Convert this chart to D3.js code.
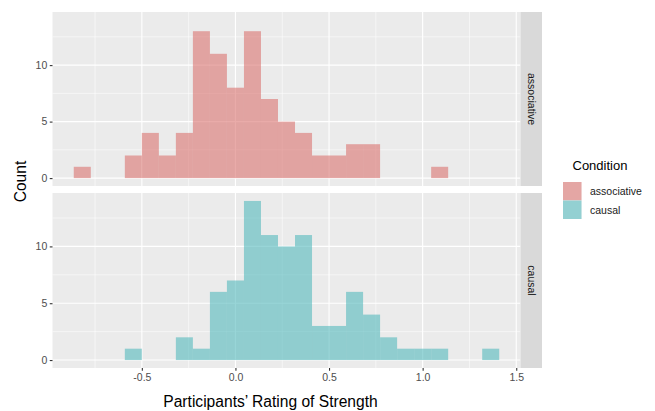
<!DOCTYPE html>
<html>
<head>
<meta charset="utf-8">
<script src="https://cdn.jsdelivr.net/npm/d3@7"></script>
<style>
  body { margin: 0; background: #fff; }
  svg { display: block; font-family: "Liberation Sans", Arial, Helvetica, sans-serif; }
</style>
</head>
<body>
<script>
// histogram bins: edges are shared by both facets (binwidth 1/11)
var binEdges = [-0.8636, -0.7727, -0.6818, -0.5909, -0.5, -0.4091, -0.3182, -0.2273,
  -0.1364, -0.0455, 0.0455, 0.1364, 0.2273, 0.3182, 0.4091, 0.5, 0.5909, 0.6818,
  0.7727, 0.8636, 0.9545, 1.0455, 1.1364, 1.2273, 1.3182, 1.4091];

var conditions = ["associative", "causal"];
var colors = ["#da7370", "#53b9bc"];

var associativeCounts = [1, 0, 0, 2, 4, 2, 4, 13, 11, 8, 13, 7, 5, 4, 2, 2, 3, 3, 0, 0, 0, 1, 0, 0, 0];
var causalCounts      = [0, 0, 0, 1, 0, 0, 2, 1, 6, 7, 14, 11, 10, 11, 3, 3, 6, 4, 2, 1, 1, 1, 0, 0, 1];

var xTicks = [-0.5, 0.0, 0.5, 1.0, 1.5];
var xMinor = [-0.75, -0.25, 0.25, 0.75, 1.25];
var yTicks = [0, 5, 10];
var yMinor = [2.5, 7.5, 12.5];

var width = 655, height = 411;
var left = 52.5, right = 520.5, stripW = 21.5;
var panels = [
  { name: conditions[0], counts: associativeCounts, color: colors[0], top: 12, bottom: 186 },
  { name: conditions[1], counts: causalCounts, color: colors[1], top: 193, bottom: 368 }
];

var svg = d3.select("body").append("svg")
    .attr("width", width)
    .attr("height", height);

// ggplot style 5% expansion around the bins
var span = binEdges[binEdges.length - 1] - binEdges[0];
var x = d3.scaleLinear()
    .domain([binEdges[0] - span * 0.05, binEdges[binEdges.length - 1] + span * 0.05])
    .range([left, right]);

var maxCount = d3.max(associativeCounts.concat(causalCounts));

panels.forEach(function(p) {
  var y = d3.scaleLinear()
      .domain([-maxCount * 0.05, maxCount * 1.05])
      .range([p.bottom, p.top]);

  var g = svg.append("g");

  g.append("rect")
    .attr("x", left).attr("y", p.top)
    .attr("width", right - left).attr("height", p.bottom - p.top)
    .attr("fill", "#ebebeb");

  // minor grid
  g.selectAll(".xminor").data(xMinor).enter().append("line")
    .attr("x1", d => x(d)).attr("x2", d => x(d))
    .attr("y1", p.top).attr("y2", p.bottom)
    .attr("stroke", "#fff").attr("stroke-width", 0.55);
  g.selectAll(".yminor").data(yMinor).enter().append("line")
    .attr("x1", left).attr("x2", right)
    .attr("y1", d => y(d)).attr("y2", d => y(d))
    .attr("stroke", "#fff").attr("stroke-width", 0.55);

  // major grid
  g.selectAll(".xmajor").data(xTicks).enter().append("line")
    .attr("x1", d => x(d)).attr("x2", d => x(d))
    .attr("y1", p.top).attr("y2", p.bottom)
    .attr("stroke", "#fff").attr("stroke-width", 1.1);
  g.selectAll(".ymajor").data(yTicks).enter().append("line")
    .attr("x1", left).attr("x2", right)
    .attr("y1", d => y(d)).attr("y2", d => y(d))
    .attr("stroke", "#fff").attr("stroke-width", 1.1);

  // bars
  var bins = p.counts.map(function(c, i) { return { x0: binEdges[i], x1: binEdges[i + 1], n: c }; })
    .filter(d => d.n > 0);
  g.selectAll(".bar").data(bins).enter().append("rect")
    .attr("x", d => x(d.x0))
    .attr("width", d => x(d.x1) - x(d.x0))
    .attr("y", d => y(d.n))
    .attr("height", d => y(0) - y(d.n))
    .attr("fill", p.color)
    .attr("fill-opacity", 0.6);

  // y axis
  var ya = svg.append("g")
      .attr("transform", "translate(" + left + ",0)")
      .call(d3.axisLeft(y).tickValues(yTicks).tickSize(2.75).tickPadding(2.5).tickFormat(d3.format("d")));
  ya.select(".domain").remove();
  ya.selectAll("line").attr("stroke", "#333").attr("stroke-width", 1.1);
  ya.selectAll("text").attr("fill", "#4d4d4d").style("font-size", "10.5px")
    .style("font-family", "Liberation Sans, Arial, sans-serif");

  // facet strip
  svg.append("rect")
    .attr("x", right).attr("y", p.top)
    .attr("width", stripW).attr("height", p.bottom - p.top)
    .attr("fill", "#d9d9d9");
  svg.append("text")
    .attr("transform", "translate(" + (right + stripW / 2 - 3.5) + "," + ((p.top + p.bottom) / 2) + ") rotate(90)")
    .attr("text-anchor", "middle")
    .attr("fill", "#1a1a1a")
    .style("font-size", "10.5px")
    .text(p.name);
});

// x axis under the bottom panel
var xa = svg.append("g")
    .attr("transform", "translate(0," + panels[1].bottom + ")")
    .call(d3.axisBottom(x).tickValues(xTicks).tickSize(2.75).tickPadding(2.5).tickFormat(d3.format(".1f")));
xa.select(".domain").remove();
xa.selectAll("line").attr("stroke", "#333").attr("stroke-width", 1.1);
xa.selectAll("text").attr("fill", "#4d4d4d").style("font-size", "10.5px")
  .style("font-family", "Liberation Sans, Arial, sans-serif")
  .text(d => d3.format(".1f")(d).replace("−", "-"));

// axis titles
svg.append("text")
  .attr("x", 270.5).attr("y", 407)
  .attr("text-anchor", "middle")
  .attr("fill", "#000")
  .style("font-size", "15.6px")
  .text("Participants\u2019 Rating of Strength");

svg.append("text")
  .attr("transform", "translate(25.5,181.5) rotate(-90)")
  .attr("text-anchor", "middle")
  .attr("fill", "#000")
  .style("font-size", "15.6px")
  .text("Count");

// legend
var legend = svg.append("g");
legend.append("text")
  .attr("x", 572.5).attr("y", 170)
  .attr("fill", "#000")
  .style("font-size", "13px")
  .text("Condition");

var keys = legend.selectAll(".key").data(conditions).enter().append("g")
  .attr("transform", (d, i) => "translate(563," + (182 + i * 18.5) + ")");
keys.append("rect")
  .attr("width", 18.5).attr("height", 18.5)
  .attr("fill", "#f2f2f2");
keys.append("rect")
  .attr("width", 18.5).attr("height", 18.5)
  .attr("fill", (d, i) => colors[i])
  .attr("fill-opacity", 0.6);
keys.append("text")
  .attr("x", 27).attr("y", 13)
  .attr("fill", "#1a1a1a")
  .style("font-size", "10.5px")
  .text(d => d);
</script>
</body>
</html>
